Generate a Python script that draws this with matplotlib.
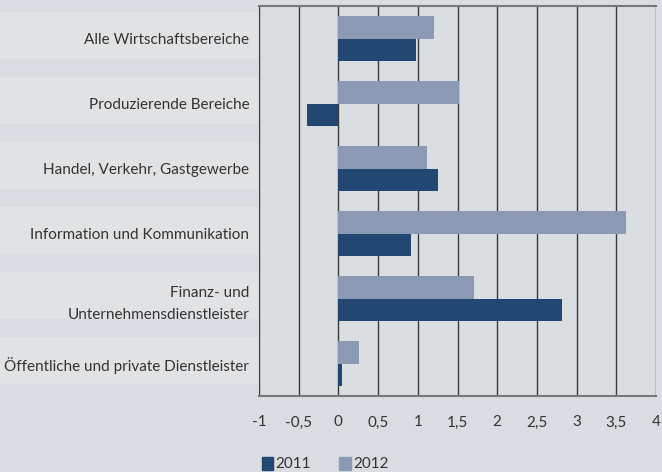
import matplotlib.pyplot as plt
import numpy as np
from matplotlib.patches import Patch, Rectangle
from matplotlib.transforms import blended_transform_factory

# Sektoren und Veränderung in Prozent
sektoren = [
    "Alle Wirtschaftsbereiche",
    "Produzierende Bereiche",
    "Handel, Verkehr, Gastgewerbe",
    "Information und Kommunikation",
    "Finanz- und\nUnternehmensdienstleister",
    "Öffentliche und private Dienstleister",
]
werte_2011 = [0.98, -0.4, 1.25, 0.92, 2.81, 0.05]
werte_2012 = [1.2, 1.52, 1.12, 3.62, 1.71, 0.26]

x_ticks = [-1, -0.5, 0, 0.5, 1, 1.5, 2, 2.5, 3, 3.5, 4]
x_labels = ["-1", "-0,5", "0", "0,5", "1", "1,5", "2", "2,5", "3", "3,5", "4"]

bg = "#d9dce0"
ax_bg = "#dbdee1"
band = "#e0e2e4"
dunkel = "#234773"
hell = "#8b99b4"
text_col = "#333333"

plt.rcParams["font.family"] = ["Lato", "DejaVu Sans"]

fig = plt.figure(figsize=(6.62, 4.72), dpi=100, facecolor=bg)
ax = fig.add_axes([259 / 662, 76 / 472, 397 / 662, 390 / 472])
ax.set_facecolor(ax_bg)

y = np.arange(len(sektoren))
h = 0.35
ax.barh(y - h / 2, werte_2012, height=h, color=hell, zorder=3)
ax.barh(y + h / 2, werte_2011, height=h, color=dunkel, zorder=3)

ax.set_xlim(-1, 4)
ax.set_ylim(len(sektoren) - 0.5, -0.5)

# vertikale Gitterlinien
for t in x_ticks:
    ax.axvline(t, color="#3a3a3a", lw=1.0, zorder=1)

for s in ["top", "bottom"]:
    ax.spines[s].set_color("#777777")
    ax.spines[s].set_linewidth(1.5)
for s in ["left", "right"]:
    ax.spines[s].set_visible(False)

ax.set_xticks(x_ticks)
ax.set_xticklabels(x_labels, fontsize=11, color=text_col)
ax.tick_params(axis="x", length=0, pad=14)
ax.set_yticks(y)
ax.set_yticklabels(sektoren, fontsize=11, color=text_col, linespacing=1.7)
ax.tick_params(axis="y", length=0, pad=7)

# helle Bänder hinter den Beschriftungen
trans = blended_transform_factory(fig.transFigure, ax.transData)
for i in y:
    ax.add_patch(
        Rectangle((0, i - 0.41), 258 / 662, 0.72, transform=trans,
                  facecolor=band, edgecolor="none", zorder=0, clip_on=False)
    )

handles = [Patch(color=dunkel, label="2011"), Patch(color=hell, label="2012")]
fig.legend(handles=handles, loc="lower left", bbox_to_anchor=(248 / 662, -0.028),
           ncol=2, frameon=False, fontsize=11, handlelength=0.75, handleheight=0.9,
           handletextpad=0.15, columnspacing=1.85, labelcolor=text_col)

plt.savefig("out.png", dpi=100, facecolor=bg)
